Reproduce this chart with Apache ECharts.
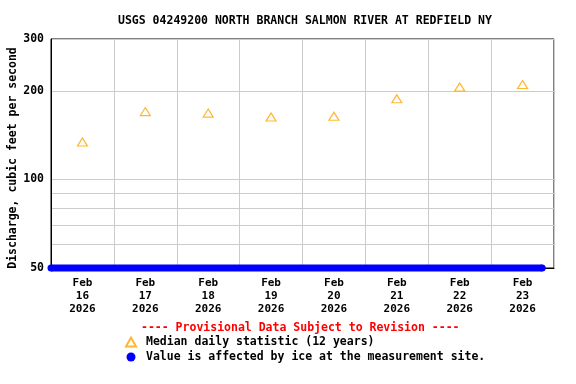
<!DOCTYPE html>
<html>
<head>
<meta charset="utf-8">
<script src="https://cdn.jsdelivr.net/npm/echarts@6/dist/echarts.min.js"></script>
<style>
html,body{margin:0;padding:0;background:#fff;}
#chart{width:576px;height:384px;}
</style>
</head>
<body>
<div id="chart"></div>
<script>
// ---- data ----
const titleText = 'USGS 04249200 NORTH BRANCH SALMON RIVER AT REDFIELD NY';
const yAxisName = 'Discharge, cubic feet per second';
const medianDates = ['2026-02-16T12:00Z','2026-02-17T12:00Z','2026-02-18T12:00Z','2026-02-19T12:00Z','2026-02-20T12:00Z','2026-02-21T12:00Z','2026-02-22T12:00Z','2026-02-23T12:00Z'];
const medianValues = [134, 170, 168, 163, 164, 188, 206, 210];
const iceDates = ['2026-02-16T00:00Z','2026-02-23T19:30Z'];
const iceValues = [50, 50];
const xStart = '2026-02-16T00:00Z';
const xEnd = '2026-02-24T00:00Z';
const yTickLabels = [50, 100, 200, 300];
const yGridValues = [50, 60, 70, 80, 90, 100, 200, 300];
const medianName = 'Median daily statistic (12 years)';
const iceName = 'Value is affected by ice at the measurement site.';
const provisionalText = '---- Provisional Data Subject to Revision ----';

const FONT = '"DejaVu Sans Mono", monospace';
const DAY = 86400000;
const monthNames = ['Jan','Feb','Mar','Apr','May','Jun','Jul','Aug','Sep','Oct','Nov','Dec'];
const ts = s => Date.parse(s);

const chart = echarts.init(document.getElementById('chart'), null, {renderer:'canvas'});
chart.setOption({
  backgroundColor: '#ffffff',
  animation: false,
  title: {
    text: titleText,
    left: 113, top: 10,
    textStyle: {fontFamily: FONT, fontSize: 11.5, fontWeight: 'bold', color: '#000'}
  },
  grid: {left: 51, right: 22, top: 39, bottom: 116, containLabel: false, outerBoundsMode: 'none',
         show: true, borderColor: '#000', borderWidth: 1, backgroundColor: 'transparent'},
  xAxis: {
    type: 'value',
    min: ts(xStart),
    max: ts(xEnd),
    interval: DAY,
    axisLine: {show: true, lineStyle: {color: '#000', width: 1}},
    axisTick: {show: false},
    splitLine: {show: true, lineStyle: {color: '#cccccc', width: 1}},
    axisLabel: {
      customValues: medianDates.map(ts),
      margin: 9,
      fontFamily: FONT, fontSize: 11, fontWeight: 'bold', color: '#000', lineHeight: 13,
      formatter: v => { const d = new Date(v); return monthNames[d.getUTCMonth()] + '\n' + d.getUTCDate() + '\n' + d.getUTCFullYear(); }
    }
  },
  yAxis: {
    type: 'log', logBase: 10, min: 50, max: 300,
    name: yAxisName, nameLocation: 'middle', nameGap: 32, nameMoveOverlap: false,
    nameTextStyle: {fontFamily: FONT, fontSize: 11.5, fontWeight: 'bold', color: '#000', padding: [0, 9, 0, 0]},
    axisLine: {show: true, lineStyle: {color: '#000', width: 1}},
    axisTick: {show: false, customValues: yGridValues},
    splitLine: {show: true, lineStyle: {color: '#cccccc', width: 1}},
    axisLabel: {customValues: yTickLabels, margin: 7, fontFamily: FONT, fontSize: 11.5, fontWeight: 'bold', color: '#000'}
  },
  legend: {
    orient: 'vertical', left: 120, top: 331, itemGap: 3, itemWidth: 10, itemHeight: 9,
    textStyle: {fontFamily: FONT, fontSize: 11.5, fontWeight: 'bold', color: '#000', padding: [0,0,0,5]},
    data: [{name: medianName, icon: 'triangle'}, {name: iceName, icon: 'circle'}]
  },
  graphic: [{
    type: 'text', left: 141, top: 322,
    style: {text: provisionalText, fill: '#ff0000', font: 'bold 11.5px ' + FONT}
  }],
  series: [
    {
      name: iceName, type: 'line', z: 1,
      data: iceDates.map((d,i) => [ts(d), iceValues[i]]),
      symbol: 'circle', symbolSize: 7, showSymbol: true,
      lineStyle: {color: '#0000ff', width: 7},
      itemStyle: {color: '#0000ff'},
      clip: false
    },
    {
      name: medianName, type: 'scatter', z: 3,
      data: medianDates.map((d,i) => [ts(d), medianValues[i]]),
      symbol: 'triangle', symbolSize: [10, 8],
      itemStyle: {color: '#ffffff', borderColor: '#ffa500', borderWidth: 1.2}
    }
  ]
});
</script>
</body>
</html>
